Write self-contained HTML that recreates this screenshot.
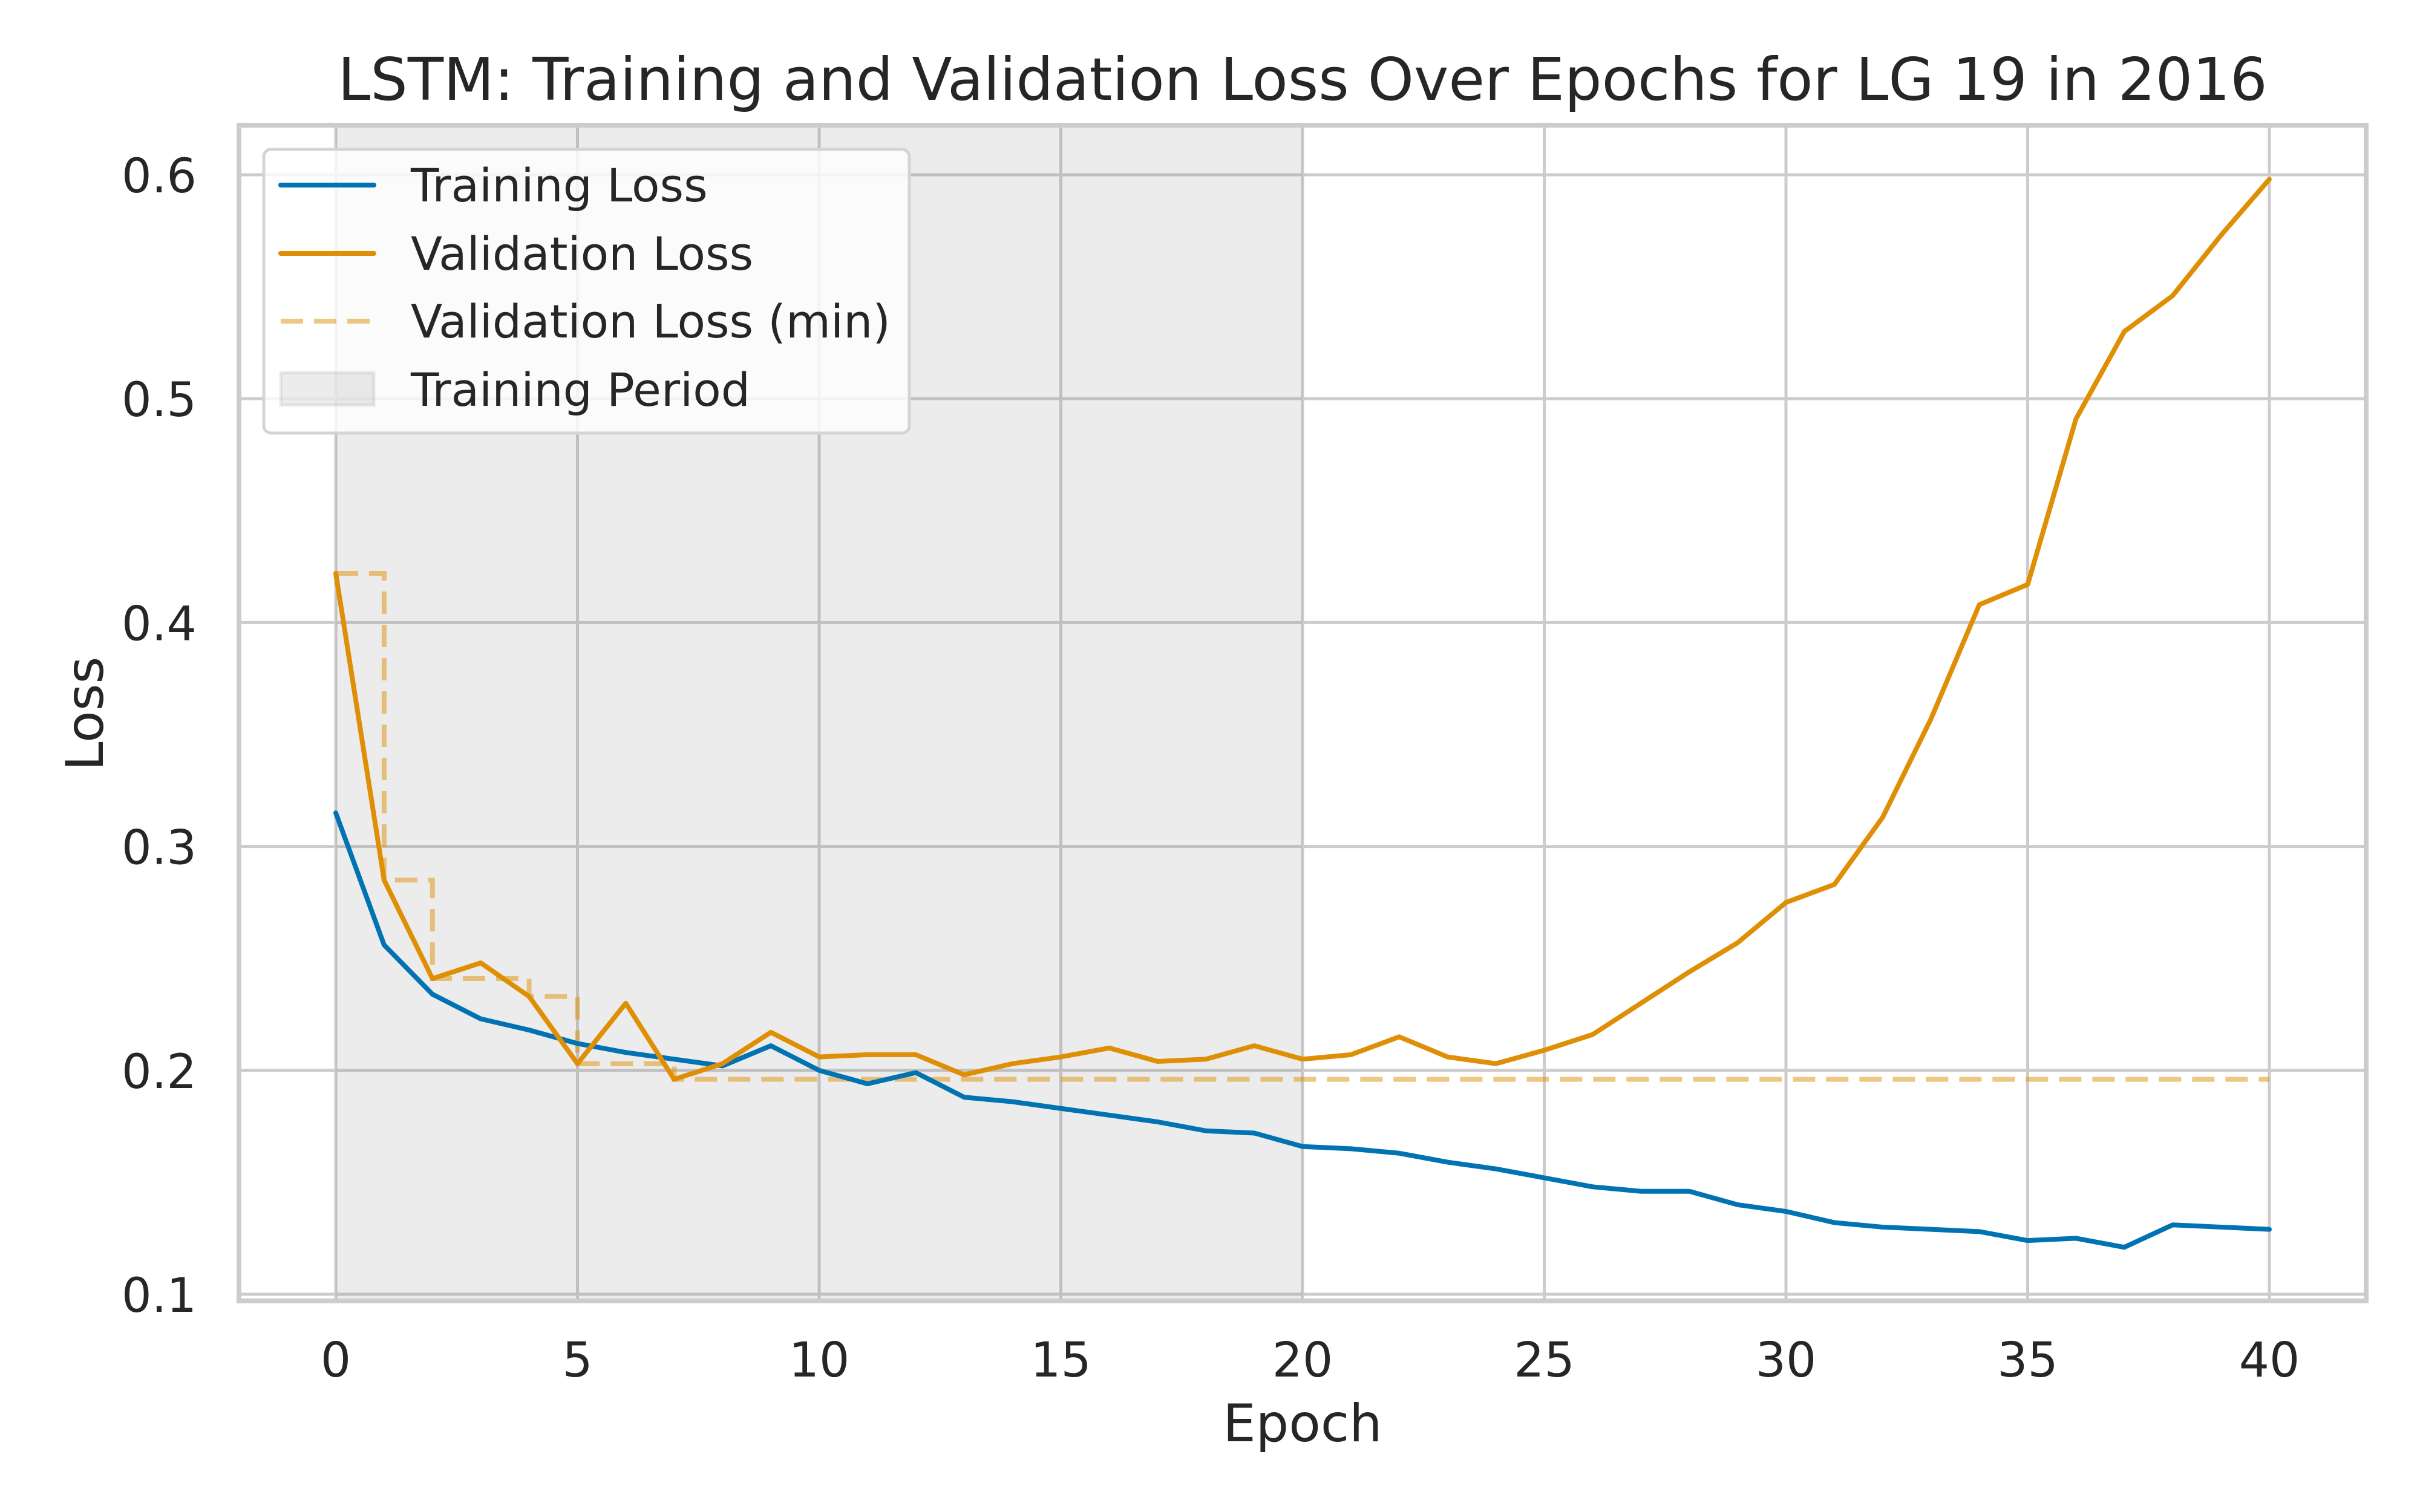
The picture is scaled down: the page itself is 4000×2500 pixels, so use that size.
<!DOCTYPE html>
<html><head><meta charset="utf-8"><style>
html,body{margin:0;padding:0;background:#fff;}
svg{display:block;}
text{font-family:"DejaVu Sans","Liberation Sans",sans-serif;fill:#262626;}
</style></head><body>
<svg id="chart" width="4000" height="2500" viewBox="0 0 4000 2500" xmlns="http://www.w3.org/2000/svg">
<g id="grid"></g>
<g id="shade"></g>
<g id="series"></g>
<rect x="395" y="207" width="3516" height="1944" fill="none" stroke="#cccccc" stroke-width="8"/>
<g id="ticks"></g>
<text x="2153" y="165" font-size="97" text-anchor="middle">LSTM: Training and Validation Loss Over Epochs for LG 19 in 2016</text>
<text x="2153" y="2383" font-size="86" text-anchor="middle">Epoch</text>
<text x="170" y="1180" font-size="86" text-anchor="middle" transform="rotate(-90 170 1180)">Loss</text>
<g>
<rect x="436" y="247" width="1067" height="469" rx="12" fill="rgba(255,255,255,0.8)" stroke="#d4d4d4" stroke-width="5"/>
<g>
<line x1="464" y1="306" x2="618" y2="306" stroke="#0173b2" stroke-width="8" stroke-linecap="round"/>
<text x="679" y="333" font-size="76">Training Loss</text></g>
<g>
<line x1="464" y1="419" x2="618" y2="419" stroke="#de8f05" stroke-width="8" stroke-linecap="round"/>
<text x="679" y="446" font-size="76">Validation Loss</text></g>
<g>
<line x1="464" y1="531" x2="618" y2="531" stroke="#de8f05" stroke-opacity="0.5" stroke-width="8" stroke-dasharray="37,18"/>
<text x="679" y="558" font-size="76">Validation Loss (min)</text></g>
<g>
<rect x="464" y="616" width="154" height="54" fill="rgba(128,128,128,0.15)" stroke="rgba(128,128,128,0.15)" stroke-width="5"/>
<text x="679" y="671" font-size="76">Training Period</text></g>
</g>
</svg>
<script>
const epochs = Array.from({length:41},(_,i)=>i);
const trainLoss = [0.315,0.256,0.234,0.223,0.218,0.212,0.208,0.205,0.202,0.211,0.200,0.194,0.199,0.188,0.186,0.183,0.180,0.177,0.173,0.172,0.166,0.165,0.163,0.159,0.156,0.152,0.148,0.146,0.146,0.140,0.137,0.132,0.130,0.129,0.128,0.124,0.125,0.121,0.131,0.130,0.129];
const valLoss = [0.422,0.285,0.241,0.248,0.233,0.203,0.230,0.196,0.203,0.217,0.206,0.207,0.207,0.198,0.203,0.206,0.210,0.204,0.205,0.211,0.205,0.207,0.215,0.206,0.203,0.209,0.216,0.230,0.244,0.257,0.275,0.283,0.313,0.357,0.408,0.417,0.491,0.530,0.546,0.573,0.598];
const xTicks = [0,5,10,15,20,25,30,35,40];
const yTicks = [0.1,0.2,0.3,0.4,0.5,0.6];
const yTickLabels = ["0.1","0.2","0.3","0.4","0.5","0.6"];
const trainingPeriod = [0,20];

const NS="http://www.w3.org/2000/svg";
const X0=395,X1=3911,Y0=207,Y1=2151;
const xs=e=>555+(e-0)*(3751-555)/40;
const ys=v=>2140-(v-0.1)*(2140-289)/0.5;
function mk(tag,attrs,parent){const el=document.createElementNS(NS,tag);for(const k in attrs)el.setAttribute(k,attrs[k]);parent.appendChild(el);return el;}
const grid=document.getElementById('grid'),ticks=document.getElementById('ticks'),series=document.getElementById('series'),shade=document.getElementById('shade');
xTicks.forEach(t=>{
 const l=mk('line',{x1:xs(t),x2:xs(t),y1:Y0,y2:Y1,stroke:'#cccccc','stroke-width':5},grid);
 
 
 const tx=mk('text',{x:xs(t),y:2276,'font-size':79,'text-anchor':'middle'},ticks);
 tx.textContent=String(t);
 
 
});
yTicks.forEach((t,i)=>{
 const l=mk('line',{x1:X0,x2:X1,y1:ys(t),y2:ys(t),stroke:'#cccccc','stroke-width':5},grid);
 
 
 const tx=mk('text',{x:325,y:ys(t)+29,'font-size':78,'text-anchor':'end'},ticks);
 tx.textContent=yTickLabels[i];
 
 
});
const sr=mk('rect',{x:xs(trainingPeriod[0]),y:Y0,width:xs(trainingPeriod[1])-xs(trainingPeriod[0]),height:Y1-Y0,fill:'rgba(128,128,128,0.15)'},shade);


let m=Infinity,pts=[],last=null;
valLoss.forEach((v,i)=>{m=Math.min(m,v);if(i>0)pts.push(xs(i)+','+ys(last));pts.push(xs(i)+','+ys(m));last=m;});
const mn=mk('polyline',{points:pts.join(' '),fill:'none',stroke:'#de8f05','stroke-opacity':0.5,'stroke-width':8,'stroke-dasharray':'37,18'},series);


const tl=mk('polyline',{points:epochs.map(e=>xs(e)+','+ys(trainLoss[e])).join(' '),fill:'none',stroke:'#0173b2','stroke-width':8,'stroke-linejoin':'round','stroke-linecap':'round'},series);


const vl=mk('polyline',{points:epochs.map(e=>xs(e)+','+ys(valLoss[e])).join(' '),fill:'none',stroke:'#de8f05','stroke-width':8,'stroke-linejoin':'round','stroke-linecap':'round'},series);


</script>
</body></html>
